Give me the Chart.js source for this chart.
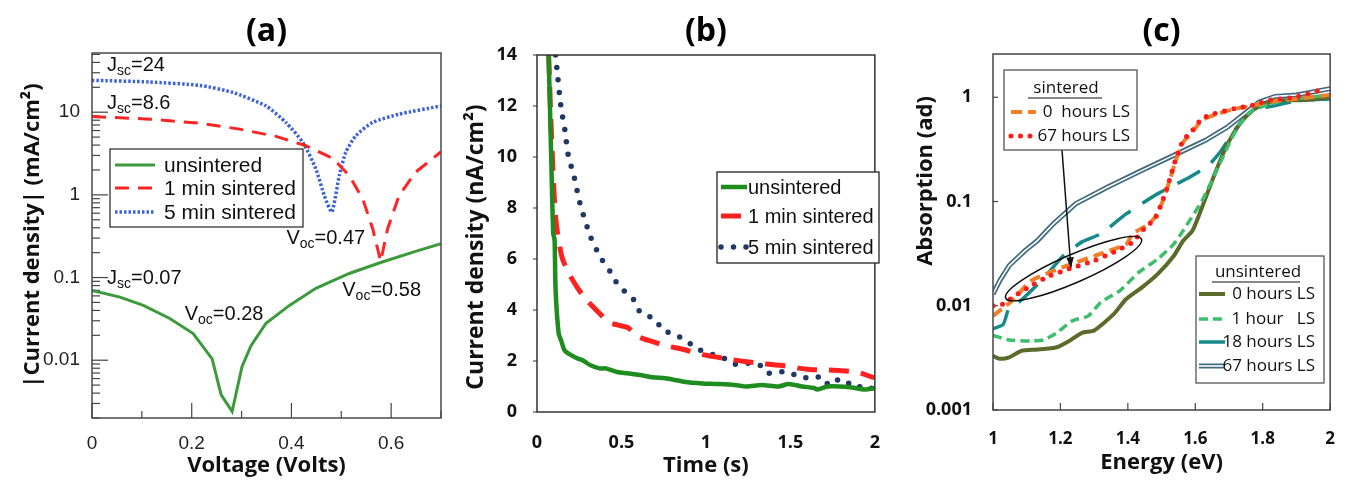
<!DOCTYPE html>
<html><head><meta charset="utf-8">
<script src="https://cdn.jsdelivr.net/npm/chart.js@4.4.1/dist/chart.umd.min.js"></script>
<style>
html,body{margin:0;padding:0;background:#fff;width:1354px;height:481px;overflow:hidden}
.p{position:absolute;top:0;height:481px}
canvas{display:block}
</style></head><body>
<div class="p" style="left:0;width:455px"><canvas id="ca" width="455" height="481"></canvas></div>
<div class="p" style="left:455px;width:445px"><canvas id="cb" width="445" height="481"></canvas></div>
<div class="p" style="left:900px;width:454px"><canvas id="cc" width="454" height="481"></canvas></div>
<script>
// ================= Panel (a): |J| vs V =================
const aSeries = ['unsintered', '1 min sintered', '5 min sintered'];
const aV_uns = [0, 0.056, 0.103, 0.156, 0.203, 0.241, 0.259, 0.281, 0.301, 0.319, 0.349, 0.396, 0.449, 0.516, 0.579, 0.649, 0.70];
const aJ_uns = [0.070, 0.058, 0.046, 0.032, 0.021, 0.0104, 0.0038, 0.0024, 0.0084, 0.015, 0.028, 0.046, 0.074, 0.112, 0.152, 0.207, 0.257];
const aV_1m = [0, 0.115, 0.216, 0.296, 0.369, 0.429, 0.483, 0.516, 0.543, 0.563, 0.579, 0.593, 0.616, 0.649, 0.70];
const aJ_1m = [8.87, 8.24, 7.37, 6.24, 5.1, 3.93, 2.77, 1.71, 0.895, 0.39, 0.157, 0.39, 0.98, 1.88, 3.32];
const aV_5m = [0, 0.115, 0.216, 0.283, 0.349, 0.389, 0.423, 0.449, 0.466, 0.481, 0.496, 0.509, 0.529, 0.563, 0.616, 0.70];
const aJ_5m = [24.3, 23.2, 21.1, 17.3, 11.9, 7.5, 4.3, 2.06, 0.98, 0.62, 1.71, 3.27, 5.18, 7.52, 9.46, 11.9];
const aXLabels = [0, 0.2, 0.4, 0.6];
const aYLabels = [0.01, 0.1, 1, 10];

// ================= Panel (b): J vs time =================
const bSeries = ['unsintered', '1 min sintered', '5 min sintered'];
const bT_uns = [0.069, 0.084, 0.096, 0.104, 0.11, 0.128, 0.145, 0.162, 0.184, 0.24, 0.275, 0.314, 0.37, 0.406, 0.48, 0.535, 0.61, 0.685, 0.76, 0.87, 0.98, 1.057, 1.17, 1.24, 1.33, 1.43, 1.49, 1.57, 1.64, 1.66, 1.72, 1.85, 1.94, 2.0];
const bI_uns = [14, 10, 7.0, 6.75, 4.8, 3.1, 2.76, 2.43, 2.3, 2.1, 2.01, 1.84, 1.71, 1.71, 1.56, 1.52, 1.45, 1.36, 1.32, 1.19, 1.12, 1.1, 1.06, 1.0, 1.06, 1.0, 1.1, 1.0, 0.94, 0.88, 1.0, 0.97, 0.88, 0.94];
const bT_1m = [0.069, 0.087, 0.11, 0.147, 0.2, 0.277, 0.37, 0.43, 0.48, 0.54, 0.6, 0.69, 0.76, 0.87, 0.98, 1.11, 1.24, 1.33, 1.4, 1.48, 1.55, 1.61, 1.7, 1.8, 1.9, 1.98, 2.0];
const bI_1m = [14, 10.67, 7.66, 6.09, 5.3, 4.52, 3.87, 3.5, 3.41, 3.3, 2.95, 2.75, 2.6, 2.45, 2.25, 2.1, 1.97, 1.91, 1.85, 1.8, 1.72, 1.67, 1.65, 1.62, 1.55, 1.38, 1.35];
const bT_5m = [0.11, 0.141, 0.165, 0.184, 0.221, 0.253, 0.318, 0.379, 0.444, 0.48, 0.574, 0.61, 0.704, 0.74, 0.843, 0.926, 0.964, 1.02, 1.11, 1.17, 1.26, 1.33, 1.37, 1.47, 1.56, 1.63, 1.69, 1.725, 1.77, 1.81, 1.88, 1.93, 2.0];
const bI_5m = [14, 12, 11.06, 10.1, 9.19, 8.22, 6.85, 6.03, 5.4, 4.98, 4.39, 3.93, 3.61, 3.24, 2.95, 2.59, 2.43, 2.3, 2.1, 1.88, 1.91, 1.8, 1.52, 1.58, 1.38, 1.32, 1.38, 1.08, 1.28, 1.1, 1.15, 0.9, 0.95];
const bXLabels = [0, 0.5, 1, 1.5, 2];
const bYLabels = [0, 2, 4, 6, 8, 10, 12, 14];

// ================= Panel (c): absorption vs energy =================
const cSeries = ['0  hours LS', '67 hours LS', '0 hours LS', '1 hour   LS', '18 hours LS', '67 hours LS'];
const cE_s0 = [1.0, 1.057, 1.114, 1.207, 1.30, 1.395, 1.414, 1.452, 1.48, 1.503, 1.517, 1.541, 1.564, 1.588, 1.62, 1.658, 1.715, 1.77, 1.818, 1.893, 2.0];
const cA_s0 = [0.008, 0.0112, 0.0174, 0.0234, 0.030, 0.039, 0.049, 0.058, 0.07, 0.1, 0.135, 0.24, 0.37, 0.45, 0.6, 0.68, 0.77, 0.83, 0.9, 0.96, 1.05];
const cE_s67 = [1.0, 1.03, 1.057, 1.114, 1.17, 1.226, 1.30, 1.358, 1.414, 1.452, 1.48, 1.503, 1.517, 1.541, 1.564, 1.588, 1.62, 1.658, 1.715, 1.77, 1.818, 1.893, 1.987];
const cA_s67 = [0.01, 0.0104, 0.012, 0.0156, 0.0195, 0.0226, 0.0271, 0.0326, 0.0407, 0.0566, 0.068, 0.102, 0.137, 0.248, 0.386, 0.464, 0.624, 0.697, 0.778, 0.838, 0.935, 1.0, 1.21];
const cE_u0 = [1.0, 1.02, 1.048, 1.085, 1.132, 1.189, 1.226, 1.264, 1.30, 1.358, 1.395, 1.442, 1.489, 1.536, 1.564, 1.592, 1.62, 1.658, 1.696, 1.733, 1.771, 1.808, 1.865, 1.93, 2.0];
const cA_u0 = [0.0033, 0.0031, 0.0032, 0.0037, 0.0038, 0.0040, 0.0046, 0.0055, 0.0058, 0.0083, 0.0116, 0.015, 0.0202, 0.030, 0.042, 0.0526, 0.088, 0.185, 0.359, 0.559, 0.75, 0.87, 0.935, 0.94, 1.0];
const cE_u1 = [1.0, 1.048, 1.114, 1.15, 1.189, 1.236, 1.283, 1.32, 1.377, 1.433, 1.489, 1.536, 1.564, 1.62, 1.668, 1.705, 1.733, 1.771, 1.865, 2.0];
const cA_u1 = [0.0052, 0.0047, 0.0046, 0.0047, 0.0055, 0.0072, 0.008, 0.0108, 0.014, 0.021, 0.0281, 0.039, 0.0526, 0.102, 0.214, 0.386, 0.559, 0.75, 0.935, 1.05];
const cE_u18 = [1.0, 1.03, 1.048, 1.076, 1.114, 1.16, 1.208, 1.264, 1.32, 1.395, 1.489, 1.583, 1.639, 1.677, 1.724, 1.771, 1.827, 1.91, 2.0];
const cA_u18 = [0.006, 0.0066, 0.0096, 0.0108, 0.014, 0.020, 0.030, 0.041, 0.049, 0.076, 0.119, 0.171, 0.222, 0.309, 0.519, 0.75, 0.82, 0.935, 0.96];
const cE_u67 = [1.0, 1.02, 1.048, 1.095, 1.132, 1.179, 1.245, 1.339, 1.442, 1.536, 1.63, 1.696, 1.752, 1.79, 1.837, 1.9, 2.0];
const cA_u67 = [0.0129, 0.0174, 0.0243, 0.0338, 0.0422, 0.061, 0.095, 0.137, 0.199, 0.277, 0.386, 0.519, 0.722, 0.902, 1.02, 1.05, 1.21];
const cXLabels = [1, 1.2, 1.4, 1.6, 1.8, 2];
const cYLabels = [0.001, 0.01, 0.1, 1];

// ================= helpers =================
const pts = (xs, ys) => xs.map((x, i) => ({x: x, y: ys[i]}));
const near = (a, b) => Math.abs(a - b) < 1e-7;
const inList = (list, v) => list.some(l => near(l, v));
const isDecade = v => Math.abs(Math.log10(v) - Math.round(Math.log10(v))) < 1e-6;
function logTicks(min, max) {
  const out = [];
  for (let d = -4; d <= 3; d++) for (let m = 1; m <= 9; m++) {
    const v = +(m * Math.pow(10, d)).toPrecision(6);
    if (v >= min * 0.999 && v <= max * 1.001) out.push(v);
  }
  return out;
}
const SANS = '"Liberation Sans", Arial, sans-serif';
const OPEN = '"Open Sans", sans-serif';
const noGrid = {display: false, drawTicks: false};

function frame(chart, color, w) {
  const ca = chart.chartArea, ctx = chart.ctx;
  ctx.save(); ctx.strokeStyle = color; ctx.lineWidth = w;
  ctx.strokeRect(ca.left, ca.top, ca.right - ca.left, ca.bottom - ca.top);
  ctx.restore();
}
function drawTicks(chart, id, lenFn, color, outward) {
  const s = chart.scales[id], ca = chart.chartArea, ctx = chart.ctx;
  ctx.save(); ctx.strokeStyle = color; ctx.lineWidth = 1.2;
  for (const t of s.ticks) {
    const L = lenFn(t.value); if (!L) continue;
    const p = s.getPixelForValue(t.value);
    ctx.beginPath();
    if (s.isHorizontal()) { ctx.moveTo(p, ca.bottom); ctx.lineTo(p, ca.bottom + (outward ? L : -L)); }
    else { ctx.moveTo(ca.left, p); ctx.lineTo(ca.left + (outward ? -L : L), p); }
    ctx.stroke();
  }
  ctx.restore();
}
function legendBox(ctx, x, y, w, h, color) {
  ctx.save(); ctx.fillStyle = '#fff'; ctx.fillRect(x, y, w, h);
  ctx.strokeStyle = color; ctx.lineWidth = 1.3; ctx.strokeRect(x, y, w, h); ctx.restore();
}
function legendLine(ctx, ds, x1, x2, y) {
  ctx.save(); ctx.strokeStyle = ds.borderColor; ctx.lineWidth = ds.borderWidth;
  ctx.setLineDash(ds.borderDash || []); ctx.lineCap = ds.borderCapStyle || 'butt';
  ctx.beginPath(); ctx.moveTo(x1, y); ctx.lineTo(x2, y); ctx.stroke(); ctx.restore();
}
function text(ctx, s, x, y, font, color, align, base) {
  ctx.save(); ctx.font = font; ctx.fillStyle = color || '#111';
  ctx.textAlign = align || 'left'; ctx.textBaseline = base || 'middle';
  ctx.fillText(s, x, y); ctx.restore();
}
function vText(ctx, s, x, y, font) {
  ctx.save(); ctx.translate(x, y); ctx.rotate(-Math.PI / 2);
  ctx.font = font; ctx.fillStyle = '#111'; ctx.textAlign = 'center'; ctx.textBaseline = 'middle';
  ctx.fillText(s, 0, 0); ctx.restore();
}
function subText(ctx, x, y, a, sub, rest, fs, ss) {
  ctx.save(); ctx.fillStyle = '#111'; ctx.textAlign = 'left'; ctx.textBaseline = 'alphabetic';
  ctx.font = fs + 'px ' + SANS; ctx.fillText(a, x, y); x += ctx.measureText(a).width;
  ctx.font = ss + 'px ' + SANS; ctx.fillText(sub, x, y + 4); x += ctx.measureText(sub).width;
  ctx.font = fs + 'px ' + SANS; ctx.fillText(rest, x, y);
  ctx.restore();
}
const titleOpt = (t, padTop, padBottom) => ({display: true, text: t, fullSize: false, color: '#000',
  font: {family: OPEN, size: 32, weight: 'bold'}, padding: {top: padTop, bottom: padBottom}});
const axisTitle = (t, pad) => ({display: true, text: t, color: '#111', font: {family: OPEN, size: 22, weight: 'bold'}, padding: pad});
const base = {responsive: false, animation: false, events: [],
  plugins: {legend: {display: false}, tooltip: {enabled: false}}};

// ================= Chart (a) =================
const aNotes = [
  {t: ['J', 'sc', '=24'], x: 0.03, y: 31.2},
  {t: ['J', 'sc', '=8.6'], x: 0.03, y: 10.9},
  {t: ['V', 'oc', '=0.47'], x: 0.39, y: 0.257},
  {t: ['J', 'sc', '=0.07'], x: 0.03, y: 0.0847},
  {t: ['V', 'oc', '=0.58'], x: 0.502, y: 0.059},
  {t: ['V', 'oc', '=0.28'], x: 0.186, y: 0.0303}
];
const aDecor = {
  id: 'aDecor',
  beforeDatasetsDraw(chart) {
    drawTicks(chart, 'y', v => isDecade(v) ? 16 : 8, '#444', false);
    drawTicks(chart, 'x', v => inList(aXLabels, v) ? 15 : 7, '#444', false);
  },
  afterDatasetsDraw(chart) {
    const ctx = chart.ctx, dss = chart.data.datasets;
    frame(chart, '#4a4a4a', 1.5);
    const xs = chart.scales.x, ys = chart.scales.y;
    aNotes.forEach(n => subText(ctx, xs.getPixelForValue(n.x), ys.getPixelForValue(n.y), n.t[0], n.t[1], n.t[2], 20, 14));
    legendBox(ctx, 110, 149, 193, 78, '#333');
    [165, 188, 212].forEach((y, i) => {
      legendLine(ctx, dss[i], 115, 155, y);
      text(ctx, dss[i].label, 164, y + 1, '21px ' + SANS, '#111');
    });
  }
};
new Chart(document.getElementById('ca'), {
  type: 'line',
  data: {datasets: [
    {label: aSeries[0], data: pts(aV_uns, aJ_uns), borderColor: '#3C9A3C', borderWidth: 3, pointRadius: 0, tension: 0},
    {label: aSeries[1], data: pts(aV_1m, aJ_1m), borderColor: '#FF2424', borderWidth: 3, borderDash: [14, 9], pointRadius: 0, tension: 0},
    {label: aSeries[2], data: pts(aV_5m, aJ_5m), borderColor: '#3D63DB', borderWidth: 3.5, borderDash: [2.5, 2], pointRadius: 0, tension: 0.2}
  ]},
  options: Object.assign({}, base, {
    layout: {padding: {left: 0, right: 13, top: 0, bottom: 0}},
    plugins: Object.assign({}, base.plugins, {title: titleOpt('(a)', 13, 1.6)}),
    scales: {
      x: {type: 'linear', min: 0, max: 0.7, afterFit: s => { s.height = 63; },
        grid: noGrid, border: {display: false},
        ticks: {stepSize: 0.1, padding: 14, color: '#222', maxRotation: 0, autoSkip: false,
          font: {family: SANS, size: 19},
          callback: v => inList(aXLabels, v) ? String(Math.round(v * 10) / 10) : ''},
        title: axisTitle('Voltage (Volts)', {top: 0, bottom: 2})},
      y: {type: 'logarithmic', min: 0.002, max: 52, afterFit: s => { s.width = 92; },
        afterBuildTicks: s => { s.ticks = logTicks(0.002, 52).map(v => ({value: v})); },
        grid: noGrid, border: {display: false},
        ticks: {padding: 12, color: '#222', autoSkip: false, font: {family: SANS, size: 19},
          callback: v => inList(aYLabels, v) ? String(v) : ''},
        title: axisTitle('|Current density| (mA/cm\u00B2)', {top: 20, bottom: 0})}
    }
  }),
  plugins: [aDecor]
});

// ================= Chart (b) =================
const bDecor = {
  id: 'bDecor',
  beforeDatasetsDraw(chart) {
    drawTicks(chart, 'y', v => 4, '#555', true);
  },
  afterDatasetsDraw(chart) {
    const ctx = chart.ctx, dss = chart.data.datasets;
    frame(chart, '#333', 1.5);
    legendBox(ctx, 262, 172, 162, 91, '#222');
    [187, 216, 247].forEach((y, i) => {
      legendLine(ctx, dss[i], 266, 292, y);
      text(ctx, dss[i].label, 293, y + 1, '20px ' + SANS, '#111');
    });
    vText(ctx, 'Current density (nA/cm\u00B2)', 21, 247, 'bold 23px ' + OPEN);
  }
};
new Chart(document.getElementById('cb'), {
  type: 'line',
  data: {datasets: [
    {label: bSeries[0], data: pts(bT_uns, bI_uns), borderColor: '#1E8C1E', borderWidth: 4.5, pointRadius: 0, tension: 0.25},
    {label: bSeries[1], data: pts(bT_1m, bI_1m), borderColor: '#FF2020', borderWidth: 5, borderDash: [20, 12], pointRadius: 0, tension: 0.25},
    {label: bSeries[2], data: pts(bT_5m, bI_5m), borderColor: '#1F3864', borderWidth: 5.5, borderDash: [0, 12.5], borderCapStyle: 'round', pointRadius: 0, tension: 0.25}
  ]},
  options: Object.assign({}, base, {
    layout: {padding: {left: 0, right: 4, top: 0, bottom: 0}},
    plugins: Object.assign({}, base.plugins, {title: titleOpt('(b)', 13, 3.6)}),
    scales: {
      x: {type: 'linear', min: 0, max: 2, afterFit: s => { s.height = 69; },
        grid: noGrid, border: {display: false},
        ticks: {stepSize: 0.5, padding: 20, color: '#111', maxRotation: 0, autoSkip: false,
          font: {family: OPEN, size: 18, weight: 'bold'},
          callback: v => inList(bXLabels, v) ? String(v) : ''},
        title: axisTitle('Time (s)', {top: 0, bottom: 2})},
      y: {type: 'linear', min: 0, max: 14, afterFit: s => { s.width = 82; },
        grid: noGrid, border: {display: false},
        ticks: {stepSize: 2, padding: 20, color: '#111', autoSkip: false,
          font: {family: OPEN, size: 18, weight: 'bold'},
          callback: v => inList(bYLabels, v) ? String(v) : ''},
        title: {display: false, text: 'Current density (nA/cm\u00B2)'}}
    }
  }),
  plugins: [bDecor]
});

// ================= Chart (c) =================
const cEllipse = {x: 1.239, y: 0.0227};
const cArrowTip = {x: 1.231, y: 0.0232};
const cDecor = {
  id: 'cDecor',
  beforeDatasetsDraw(chart) {
    drawTicks(chart, 'x', v => 7, '#444', false);
    drawTicks(chart, 'y', v => 5, '#444', false);
  },
  afterDatasetDraw(chart, args) {
    // white core of the double line (67 hours, unsintered)
    if (args.index !== 5) return;
    const ctx = chart.ctx, ca = chart.chartArea, pts5 = args.meta.data;
    ctx.save(); ctx.beginPath(); ctx.rect(ca.left, ca.top, ca.right - ca.left, ca.bottom - ca.top); ctx.clip();
    ctx.strokeStyle = '#fff'; ctx.lineWidth = 1.6; ctx.lineJoin = 'round';
    ctx.beginPath(); pts5.forEach((p, i) => i ? ctx.lineTo(p.x, p.y) : ctx.moveTo(p.x, p.y)); ctx.stroke();
    ctx.restore();
  },
  afterDatasetsDraw(chart) {
    const ctx = chart.ctx, dss = chart.data.datasets;
    const xs = chart.scales.x, ys = chart.scales.y;
    frame(chart, '#444', 1.5);
    // ellipse + arrow
    ctx.save(); ctx.strokeStyle = '#111'; ctx.lineWidth = 1.5;
    ctx.beginPath();
    ctx.ellipse(xs.getPixelForValue(cEllipse.x), ys.getPixelForValue(cEllipse.y), 74, 14, -23.5 * Math.PI / 180, 0, 2 * Math.PI);
    ctx.stroke();
    const tx = xs.getPixelForValue(cArrowTip.x), ty = ys.getPixelForValue(cArrowTip.y);
    const sx = 162, sy = 150;
    ctx.beginPath(); ctx.moveTo(sx, sy); ctx.lineTo(tx, ty); ctx.stroke();
    const ang = Math.atan2(ty - sy, tx - sx);
    ctx.fillStyle = '#111'; ctx.beginPath(); ctx.moveTo(tx, ty);
    ctx.lineTo(tx - 11 * Math.cos(ang - 0.35), ty - 11 * Math.sin(ang - 0.35));
    ctx.lineTo(tx - 11 * Math.cos(ang + 0.35), ty - 11 * Math.sin(ang + 0.35));
    ctx.closePath(); ctx.fill();
    ctx.restore();
    // legend: sintered
    const lf = '17px ' + OPEN;
    legendBox(ctx, 104, 70, 133, 80, '#555');
    text(ctx, 'sintered', 166, 88, lf, '#111', 'center');
    ctx.save(); ctx.strokeStyle = '#111'; ctx.lineWidth = 1.2; ctx.beginPath(); ctx.moveTo(128, 98); ctx.lineTo(202, 98); ctx.stroke(); ctx.restore();
    [[0, 112], [1, 136]].forEach(([i, y]) => {
      legendLine(ctx, dss[i], 111, 136, y);
      text(ctx, dss[i].label, 230, y, lf, '#111', 'right');
    });
    // legend: unsintered
    legendBox(ctx, 296, 256, 128, 127, '#555');
    text(ctx, 'unsintered', 358, 272, lf, '#111', 'center');
    ctx.save(); ctx.strokeStyle = '#111'; ctx.lineWidth = 1.2; ctx.beginPath(); ctx.moveTo(312, 282); ctx.lineTo(400, 282); ctx.stroke(); ctx.restore();
    [[2, 294], [3, 319], [4, 342], [5, 366]].forEach(([i, y]) => {
      legendLine(ctx, dss[i], 299, 325, y);
      if (i === 5) { ctx.save(); ctx.strokeStyle = '#fff'; ctx.lineWidth = 1.6; ctx.beginPath(); ctx.moveTo(299, y); ctx.lineTo(325, y); ctx.stroke(); ctx.restore(); }
      text(ctx, dss[i].label, 415, y, lf, '#111', 'right');
    });
    vText(ctx, 'Absorption (ad)', 26, 181, 'bold 22px ' + OPEN);
  }
};
new Chart(document.getElementById('cc'), {
  type: 'line',
  data: {datasets: [
    {label: cSeries[0], data: pts(cE_s0, cA_s0), borderColor: '#F07F2A', borderWidth: 4, borderDash: [11, 6], pointRadius: 0, tension: 0.2, order: 1},
    {label: cSeries[1], data: pts(cE_s67, cA_s67), borderColor: '#FF1A1A', borderWidth: 5, borderDash: [0, 9.5], borderCapStyle: 'round', pointRadius: 0, tension: 0.2, order: 0},
    {label: cSeries[2], data: pts(cE_u0, cA_u0), borderColor: '#5A6B2B', borderWidth: 4, pointRadius: 0, tension: 0.2, order: 3},
    {label: cSeries[3], data: pts(cE_u1, cA_u1), borderColor: '#3DBE6A', borderWidth: 3.5, borderDash: [9, 5], pointRadius: 0, tension: 0.2, order: 2},
    {label: cSeries[4], data: pts(cE_u18, cA_u18), borderColor: '#168A8A', borderWidth: 3.5, borderDash: [26, 14], pointRadius: 0, tension: 0.2, order: 4},
    {label: cSeries[5], data: pts(cE_u67, cA_u67), borderColor: '#3F6A7E', borderWidth: 5, pointRadius: 0, tension: 0, order: 5}
  ]},
  options: Object.assign({}, base, {
    layout: {padding: {left: 0, right: 6, top: 0, bottom: 0}},
    plugins: Object.assign({}, base.plugins, {title: titleOpt('(c)', 13, 2.6)}),
    scales: {
      x: {type: 'linear', min: 1, max: 2, afterFit: s => { s.height = 71; },
        grid: noGrid, border: {display: false},
        ticks: {stepSize: 0.2, padding: 19, color: '#111', maxRotation: 0, autoSkip: false,
          font: {family: OPEN, size: 17, weight: 'bold'},
          callback: v => inList(cXLabels, v) ? String(Math.round(v * 10) / 10) : ''},
        title: axisTitle('Energy (eV)', {top: 0, bottom: 5})},
      y: {type: 'logarithmic', min: 0.001, max: 2.6, afterFit: s => { s.width = 93; },
        afterBuildTicks: s => { s.ticks = cYLabels.map(v => ({value: v})); },
        grid: noGrid, border: {display: false},
        ticks: {padding: 21, color: '#111', autoSkip: false, font: {family: OPEN, size: 18, weight: 'bold'},
          callback: v => String(v)},
        title: {display: false, text: 'Absorption (ad)'}}
    }
  }),
  plugins: [cDecor]
});
</script>
</body></html>
